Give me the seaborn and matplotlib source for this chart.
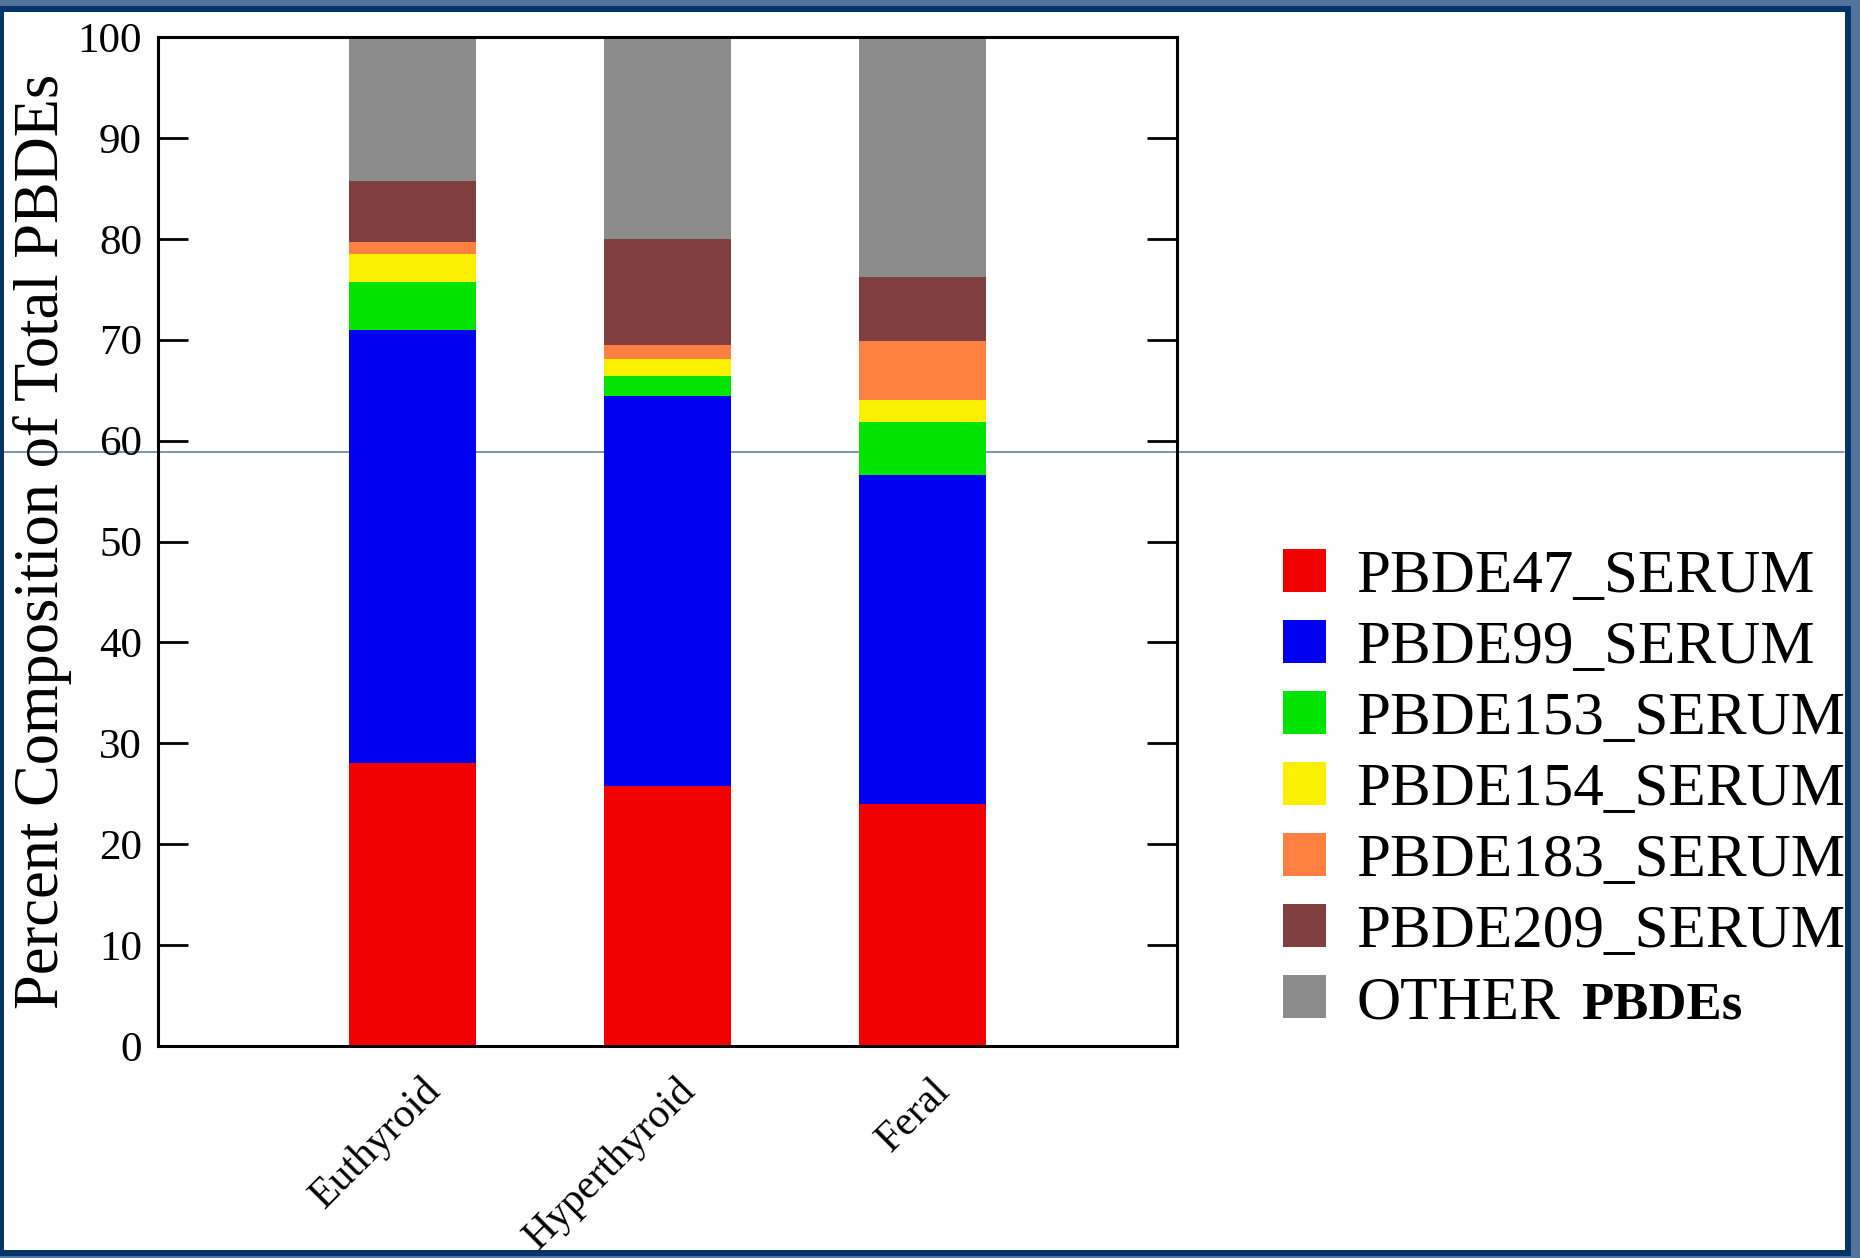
import matplotlib
matplotlib.use("Agg")
import matplotlib.pyplot as plt
import matplotlib.transforms as mtransforms
from matplotlib.patches import Patch, Rectangle
from matplotlib.lines import Line2D
from matplotlib.font_manager import FontProperties
import numpy as np
import pandas as pd
import seaborn as sns

# ---- data -------------------------------------------------------------
groups = ["Euthyroid", "Hyperthyroid", "Feral"]
congener_labels = ["PBDE47_SERUM", "PBDE99_SERUM", "PBDE153_SERUM",
                   "PBDE154_SERUM", "PBDE183_SERUM", "PBDE209_SERUM",
                   "OTHER"]
other_suffix = "PBDEs"
pbde47 = [28.0, 25.8, 24.0]
pbde99 = [43.0, 38.65, 32.6]
pbde153 = [4.75, 1.95, 5.2]
pbde154 = [2.75, 1.65, 2.2]
pbde183 = [1.2, 1.45, 5.9]
pbde209 = [6.0, 10.45, 6.35]
other = [14.3, 20.05, 23.75]
yticks = list(range(0, 101, 10))

colors = ["#F20000", "#0000F0", "#00E400", "#FBF000", "#FF8040", "#804040", "#8C8C8C"]
series = [pbde47, pbde99, pbde153, pbde154, pbde183, pbde209, other]
cols = ["PBDE47", "PBDE99", "PBDE153", "PBDE154", "PBDE183", "PBDE209", "OTHER"]
df = pd.DataFrame({"group": groups, **{c: s for c, s in zip(cols, series)}})

# ---- style -------------------------------------------------------------
sns.set_style("white")
plt.rcParams["font.family"] = ["Liberation Serif", "DejaVu Serif"]
for key in ["text.color", "axes.labelcolor", "xtick.color", "ytick.color",
            "axes.edgecolor"]:
    plt.rcParams[key] = "black"

W, H = 1860, 1258
fig = plt.figure(figsize=(W / 100, H / 100), dpi=100)
fig.patch.set_facecolor("#52739B")


def px_rect(x0, y0, x1, y1, color, z):
    """Rectangle given in pixel coordinates measured from the top-left."""
    r = Rectangle((x0 / W, 1 - y1 / H), (x1 - x0) / W, (y1 - y0) / H,
                  transform=fig.transFigure, facecolor=color,
                  edgecolor="none", zorder=z)
    fig.add_artist(r)


# white slide area and the thin guide line behind the plot
px_rect(4, 12, 1845, 1250, "white", -3)
fig.add_artist(Line2D([4 / W, 1844 / W], [1 - 452 / H] * 2,
                      transform=fig.transFigure, color="#5878A0",
                      lw=1.1, zorder=-1))

ax = fig.add_axes([158 / W, 1 - 1046 / H, 1019 / W, 1009 / H])
ax.set_facecolor("none")

bottom = np.zeros(len(groups))
for col, color in zip(cols, colors):
    sns.barplot(data=df, x="group", y=col, color=color, bottom=bottom,
                width=0.5, saturation=1, errorbar=None, linewidth=0, ax=ax)
    bottom = bottom + df[col].to_numpy()

ax.set_xlim(-1, 3)
ax.set_ylim(0, 100)
ax.set_yticks(yticks)
ax.set_xlabel("")
ax.set_ylabel("Percent Composition of Total PBDEs", fontsize=45)
ax.yaxis.set_label_coords(-0.084, 0.5)

for s in ax.spines.values():
    s.set_visible(True)
    s.set_linewidth(2.2)
    s.set_color("black")

ax.tick_params(axis="y", direction="in", length=21.6, width=2.0,
               left=True, right=True, labelsize=31, pad=11.5)
ax.tick_params(axis="x", length=0, pad=18)
ax.set_xticks(range(len(groups)))
ax.set_xticklabels(groups, rotation=45, ha="right", va="top", fontsize=30)
shift = mtransforms.ScaledTranslation(36 / 100, 0, fig.dpi_scale_trans)
for lab in ax.get_xticklabels():
    lab.set_transform(lab.get_transform() + shift)

handles = [Patch(facecolor=c, edgecolor="none") for c in colors]
leg = ax.legend(handles, congener_labels, loc="upper left",
                bbox_to_anchor=(1283 / W, 1 - 549 / H),
                bbox_transform=fig.transFigure, frameon=False, fontsize=44,
                handlelength=0.7, handleheight=0.7, handletextpad=0.5,
                labelspacing=0.25, borderpad=0, borderaxespad=0)

# bold, slightly smaller suffix after the last legend entry
fig.canvas.draw()
renderer = fig.canvas.get_renderer()
last = leg.get_texts()[-1]
bb = last.get_window_extent(renderer)
_, _, desc = renderer.get_text_width_height_descent(
    "lp", last.get_fontproperties(), ismath=False)
fig.text((bb.x1 + 21) / W, (bb.y0 + desc) / H, other_suffix,
         fontsize=38, fontweight="bold", ha="left", va="baseline",
         color="black", zorder=5)

# slide frame drawn on top
navy = "#05346B"
light = "#52739B"
px_rect(0, 0, W, 6, light, 20)
px_rect(0, 1256, W, H, light, 20)
px_rect(1851, 0, W, H, light, 20)
px_rect(0, 6, 1851, 12, navy, 21)
px_rect(0, 1250, 1851, 1256, navy, 21)
px_rect(0, 6, 4, 1256, navy, 21)
px_rect(1845, 6, 1851, 1256, navy, 21)

fig.savefig("out.png", dpi=100, facecolor=fig.get_facecolor())
